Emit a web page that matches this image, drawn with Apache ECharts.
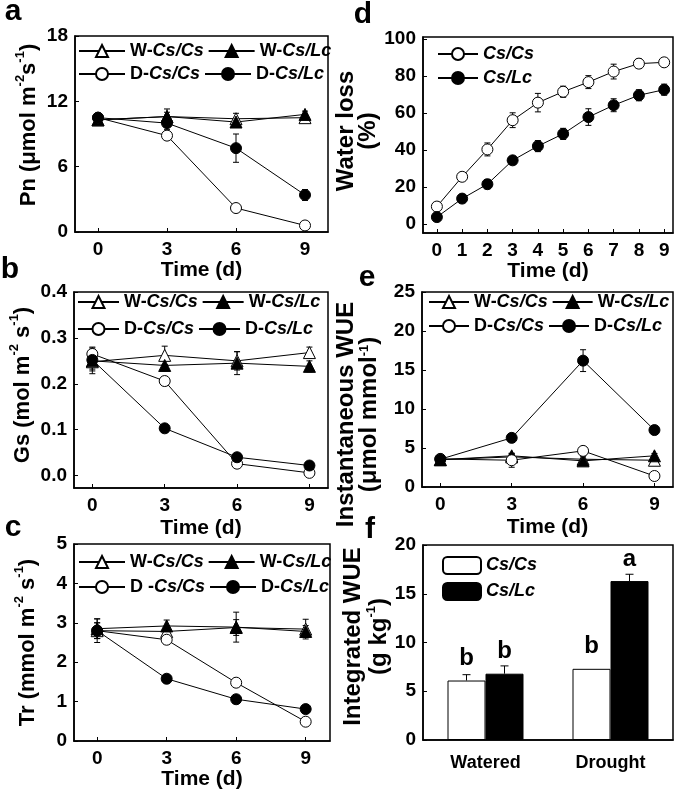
<!DOCTYPE html>
<html><head><meta charset="utf-8">
<script src="https://cdn.jsdelivr.net/npm/echarts@6/dist/echarts.min.js"></script>
<style>html,body{margin:0;padding:0;background:#fff}#c{width:685px;height:791px}</style>
</head><body><div id="c"></div>
<script>
// ---------- data ----------
const days4 = [0, 3, 6, 9];
const days10 = [0, 1, 2, 3, 4, 5, 6, 7, 8, 9];
const dayTicks4 = [0, 3, 6, 9];

// a: Pn
const pnWCsCs = [10.3, 10.6, 10.4, 10.5];
const pnWCsCsErr = [0.3, 0.4, 0.5, 0.3];
const pnWCsLc = [10.3, 10.6, 10.1, 10.8];
const pnWCsLcErr = [0.3, 0.7, 0.3, 0.3];
const pnDCsCs = [10.5, 8.85, 2.2, 0.6];
const pnDCsCsErr = [0.3, 0.3, 0.3, 0.25];
const pnDCsLc = [10.5, 10.0, 7.7, 3.4];
const pnDCsLcErr = [0.3, 0.6, 1.3, 0.5];

// b: Gs
const gsWCsCs = [0.248, 0.262, 0.25, 0.268];
const gsWCsCsErr = [0.02, 0.02, 0.02, 0.012];
const gsWCsLc = [0.25, 0.24, 0.245, 0.238];
const gsWCsLcErr = [0.028, 0.012, 0.025, 0.012];
const gsDCsCs = [0.265, 0.206, 0.026, 0.006];
const gsDCsCsErr = [0.015, 0.01, 0.004, 0.006];
const gsDCsLc = [0.252, 0.103, 0.04, 0.022];
const gsDCsLcErr = [0.02, 0.005, 0.004, 0.004];

// c: Tr
const trWCsCs = [2.8, 2.78, 2.88, 2.84];
const trWCsCsErr = [0.3, 0.1, 0.2, 0.25];
const trWCsLc = [2.85, 2.92, 2.89, 2.78];
const trWCsLcErr = [0.25, 0.15, 0.38, 0.15];
const trDCsCs = [2.8, 2.57, 1.48, 0.49];
const trDCsCsErr = [0.2, 0.12, 0.05, 0.05];
const trDCsLc = [2.8, 1.58, 1.06, 0.81];
const trDCsLcErr = [0.2, 0.05, 0.03, 0.03];

// d: Water loss (%)
const wlCsCs = [9.3, 25.4, 40.2, 56.0, 65.5, 71.4, 76.6, 82.3, 86.6, 87.3];
const wlCsCsErr = [2, 2, 3.5, 4, 5, 3, 3.5, 4, 2.5, 1.5];
const wlCsLc = [3.6, 13.6, 21.4, 34.3, 42.0, 48.6, 57.7, 64.1, 69.5, 72.5];
const wlCsLcErr = [1.5, 2, 2.5, 2, 3, 3, 4.5, 3.5, 3, 3];

// e: Instantaneous WUE
const wueWCsCs = [3.5, 3.86, 3.56, 3.43];
const wueWCsCsErr = [0.3, 0.3, 0.5, 0.3];
const wueWCsLc = [3.5, 4.0, 3.35, 4.0];
const wueWCsLcErr = [0.3, 0.3, 0.6, 0.3];
const wueDCsCs = [3.6, 3.43, 4.63, 1.41];
const wueDCsCsErr = [0.3, 0.9, 0.4, 0.3];
const wueDCsLc = [3.56, 6.3, 16.2, 7.3];
const wueDCsLcErr = [0.3, 0.3, 1.4, 0.4];

// f: Integrated WUE
const fCategories = ['Watered', 'Drought'];
const fCsCs = [6.1, 7.3];
const fCsCsErr = [0.6, 0];
const fCsLc = [6.8, 16.3];
const fCsLcErr = [0.8, 0.7];
const fLettersCsCs = ['b', 'b'];
const fLettersCsLc = ['b', 'a'];

// ---------- styles ----------
const FONT = 'Liberation Sans';
const STY = {
  WCsCs: { symbol: 'triangle', fill: '#fff', size: 12 },
  WCsLc: { symbol: 'triangle', fill: '#000', size: 12 },
  DCsCs: { symbol: 'circle', fill: '#fff', size: 11 },
  DCsLc: { symbol: 'circle', fill: '#000', size: 11 }
};

const series = [];
function addLine(idx, name, xs, ys, errs, sty) {
  series.push({
    type: 'custom', xAxisIndex: idx, yAxisIndex: idx, z: 2, silent: true,
    data: xs.map((x, i) => [x, ys[i], errs[i]]),
    encode: { x: 0, y: 1 },
    renderItem: (params, api) => {
      const x = api.value(0), y = api.value(1), e = api.value(2);
      if (!e) return null;
      const t = api.coord([x, y + e]), b = api.coord([x, y - e]);
      const w = 3, st = { stroke: '#000', lineWidth: 1 };
      return { type: 'group', children: [
        { type: 'line', shape: { x1: t[0], y1: t[1], x2: b[0], y2: b[1] }, style: st },
        { type: 'line', shape: { x1: t[0] - w, y1: t[1], x2: t[0] + w, y2: t[1] }, style: st },
        { type: 'line', shape: { x1: b[0] - w, y1: b[1], x2: b[0] + w, y2: b[1] }, style: st }
      ]};
    }
  });
  series.push({
    type: 'line', name: name, xAxisIndex: idx, yAxisIndex: idx, z: 3,
    data: xs.map((x, i) => [x, ys[i]]),
    symbol: sty.symbol, symbolSize: sty.size, showSymbol: true,
    lineStyle: { color: '#000', width: 1 },
    itemStyle: { color: sty.fill, borderColor: '#000', borderWidth: 1 }
  });
}

addLine(0, 'a W-Cs/Cs', days4, pnWCsCs, pnWCsCsErr, STY.WCsCs);
addLine(0, 'a W-Cs/Lc', days4, pnWCsLc, pnWCsLcErr, STY.WCsLc);
addLine(0, 'a D-Cs/Cs', days4, pnDCsCs, pnDCsCsErr, STY.DCsCs);
addLine(0, 'a D-Cs/Lc', days4, pnDCsLc, pnDCsLcErr, STY.DCsLc);

addLine(1, 'b W-Cs/Cs', days4, gsWCsCs, gsWCsCsErr, STY.WCsCs);
addLine(1, 'b W-Cs/Lc', days4, gsWCsLc, gsWCsLcErr, STY.WCsLc);
addLine(1, 'b D-Cs/Cs', days4, gsDCsCs, gsDCsCsErr, STY.DCsCs);
addLine(1, 'b D-Cs/Lc', days4, gsDCsLc, gsDCsLcErr, STY.DCsLc);

addLine(2, 'c W-Cs/Cs', days4, trWCsCs, trWCsCsErr, STY.WCsCs);
addLine(2, 'c W-Cs/Lc', days4, trWCsLc, trWCsLcErr, STY.WCsLc);
addLine(2, 'c D -Cs/Cs', days4, trDCsCs, trDCsCsErr, STY.DCsCs);
addLine(2, 'c D-Cs/Lc', days4, trDCsLc, trDCsLcErr, STY.DCsLc);

addLine(3, 'd Cs/Cs', days10, wlCsCs, wlCsCsErr, STY.DCsCs);
addLine(3, 'd Cs/Lc', days10, wlCsLc, wlCsLcErr, STY.DCsLc);

addLine(4, 'e W-Cs/Cs', days4, wueWCsCs, wueWCsCsErr, STY.WCsCs);
addLine(4, 'e W-Cs/Lc', days4, wueWCsLc, wueWCsLcErr, STY.WCsLc);
addLine(4, 'e D-Cs/Cs', days4, wueDCsCs, wueDCsCsErr, STY.DCsCs);
addLine(4, 'e D-Cs/Lc', days4, wueDCsLc, wueDCsLcErr, STY.DCsLc);

// f bars
const BARW = 0.304;
function addBar(name, vals, errs, letters, fill, side) {
  series.push({
    type: 'bar', name: name, xAxisIndex: 5, yAxisIndex: 5, z: 2,
    data: vals, barWidth: (BARW * 100) + '%', barGap: '0%',
    itemStyle: { color: fill, borderColor: '#000', borderWidth: 1 },
    label: {
      show: true, position: 'top', distance: 10,
      formatter: p => letters[p.dataIndex],
      fontSize: 24, fontWeight: 'bold', fontFamily: FONT, color: '#000'
    }
  });
  series.push({
    type: 'custom', xAxisIndex: 5, yAxisIndex: 5, z: 3, silent: true,
    data: vals.map((v, i) => [i, v, errs[i]]),
    encode: { x: 0, y: 1 },
    renderItem: (params, api) => {
      const e = api.value(2);
      if (!e) return null;
      const band = api.size([1, 0])[0];
      const off = side * band * BARW / 2;
      const t = api.coord([api.value(0), api.value(1) + e]);
      const b = api.coord([api.value(0), api.value(1)]);
      const x = t[0] + off, w = 4, st = { stroke: '#000', lineWidth: 1 };
      return { type: 'group', children: [
        { type: 'line', shape: { x1: x, y1: t[1], x2: x, y2: b[1] }, style: st },
        { type: 'line', shape: { x1: x - w, y1: t[1], x2: x + w, y2: t[1] }, style: st }
      ]};
    }
  });
}
addBar('f Cs/Cs', fCsCs, fCsCsErr, fLettersCsCs, '#fff', -1);
addBar('f Cs/Lc', fCsLc, fCsLcErr, fLettersCsLc, '#000', 1);

// ---------- layout ----------
const grids = [
  { left: 75, top: 36, width: 253, height: 196 },
  { left: 74, top: 292, width: 254, height: 196 },
  { left: 74, top: 544, width: 256, height: 197 },
  { left: 423, top: 37, width: 250, height: 196 },
  { left: 422, top: 292, width: 251, height: 195 },
  { left: 423, top: 545, width: 250, height: 195 }
].map(g => Object.assign({ show: true, borderColor: '#000', borderWidth: 1.5, backgroundColor: 'transparent' }, g));

const axLine = { show: true, onZero: false, lineStyle: { color: '#000', width: 1.5 } };
const lblStyle = { fontSize: 19, fontWeight: 'bold', fontFamily: FONT, color: '#000' };
const titleStyle = { fontSize: 21, fontWeight: 'bold', fontFamily: FONT, color: '#000' };

function xVal(idx, min, max, ticks, gap) {
  return {
    type: 'value', gridIndex: idx, min: min, max: max,
    axisLine: axLine, splitLine: { show: false },
    axisTick: { show: true, inside: true, length: 4, customValues: ticks, lineStyle: { color: '#000', width: 1 } },
    axisLabel: Object.assign({ customValues: ticks, margin: 8 }, lblStyle),
    name: 'Time (d)', nameLocation: 'middle', nameGap: gap, nameTextStyle: titleStyle
  };
}
function richFor(size, lh) {
  return {
    t: { fontSize: size, fontWeight: 'bold', fontFamily: FONT, color: '#000', lineHeight: lh, verticalAlign: 'bottom' },
    s: { fontSize: 13, fontWeight: 'bold', fontFamily: FONT, color: '#000', lineHeight: 10, verticalAlign: 'top' }
  };
}
function yVal(idx, min, max, ticks, name, gap, pad, size, lh, fmt) {
  const lab = Object.assign({ customValues: ticks, margin: 7 }, lblStyle);
  if (fmt) lab.formatter = fmt;
  return {
    type: 'value', gridIndex: idx, min: min, max: max,
    axisLine: axLine, splitLine: { show: false },
    axisTick: { show: true, inside: true, length: 4, customValues: ticks, lineStyle: { color: '#000', width: 1 } },
    axisLabel: lab,
    name: name, nameLocation: 'middle', nameGap: gap, nameRotate: 90,
    nameTextStyle: { padding: pad, rich: richFor(size, lh) }
  };
}

const xAxes = [
  xVal(0, -1, 10, dayTicks4, 24),
  xVal(1, -0.76, 9.77, dayTicks4, 30),
  xVal(2, -1, 10.05, dayTicks4, 27),
  xVal(3, -0.55, 9.35, days10, 27),
  xVal(4, -0.77, 9.78, dayTicks4, 30),
  {
    type: 'category', gridIndex: 5, data: fCategories,
    axisLine: axLine, axisTick: { show: false },
    axisLabel: { margin: 14, fontSize: 18, fontWeight: 'bold', fontFamily: FONT, color: '#000' }
  }
];
const yAxes = [
  yVal(0, 0, 18, [0, 6, 12, 18], '{t|Pn (μmol m}{s|-2}{t|s}{s|-1}{t|)}', 35, [0, 0, 0, 18], 22, 26),
  yVal(1, -0.027, 0.4, [0, 0.1, 0.2, 0.3, 0.4], '{t|Gs (mol m}{s|-2}{t| s}{s|-1}{t|)}', 40, [0, 0, 0, 10], 22, 26, v => v.toFixed(1)),
  yVal(2, 0, 5, [0, 1, 2, 3, 4, 5], '{t|Tr (mmol m}{s|-2}{t| s}{s|-1}{t|)}', 35, [0, 0, 0, 0], 22, 26),
  yVal(3, -5, 101, [0, 20, 40, 60, 80, 100], '{t|Water loss}\n{t|(%)}', 35, [0, 0, 0, 8], 24, 22),
  yVal(4, 0, 25, [0, 5, 10, 15, 20, 25], '{t|Instantaneous WUE}\n{t|(μmol mmol}{s|-1}{t|)}', 41, [0, 50, 0, 0], 24, 23),
  yVal(5, 0, 20, [0, 5, 10, 15, 20], '{t|Integrated WUE}\n{t|(g kg}{s|-1}{t|)}', 21, [0, 0, 0, 12], 24, 26)
];

// ---------- legends ----------
const legRich = {
  n: { fontSize: 18, fontWeight: 'bold', fontFamily: FONT, color: '#000', lineHeight: 20 },
  i: { fontSize: 18, fontWeight: 'bold', fontStyle: 'italic', fontFamily: FONT, color: '#000', lineHeight: 20 }
};
function legFmt(name) {
  const s = name.slice(2);
  const k = s.indexOf('Cs/');
  return (k > 0 ? '{n|' + s.slice(0, k) + '}' : '') + '{i|' + s.slice(k) + '}';
}
function leg(names, left, top, iw, ih, gap) {
  return {
    data: names, left: left, top: top, orient: 'horizontal', padding: 0,
    itemWidth: iw, itemHeight: ih, itemGap: gap, selectedMode: false,
    formatter: legFmt, textStyle: { rich: legRich }
  };
}
const legends = [
  leg(['a W-Cs/Cs', 'a W-Cs/Lc'], 78, 42, 46, 15, 4),
  leg(['a D-Cs/Cs', 'a D-Cs/Lc'], 78, 65, 46, 15, 4),
  leg(['b W-Cs/Cs', 'b W-Cs/Lc'], 77, 293, 41, 15, 4),
  leg(['b D-Cs/Cs', 'b D-Cs/Lc'], 77, 320, 41, 15, 4),
  leg(['c W-Cs/Cs', 'c W-Cs/Lc'], 78, 553, 46, 15, 4),
  leg(['c D -Cs/Cs', 'c D-Cs/Lc'], 78, 578, 46, 15, 4),
  leg(['d Cs/Cs'], 437, 45, 40, 15, 4),
  leg(['d Cs/Lc'], 437, 69, 40, 15, 4),
  leg(['e W-Cs/Cs', 'e W-Cs/Lc'], 428, 293, 40, 15, 4),
  leg(['e D-Cs/Cs', 'e D-Cs/Lc'], 428, 317, 40, 15, 4),
  leg(['f Cs/Cs'], 442, 556, 38, 17, 4),
  leg(['f Cs/Lc'], 442, 582, 38, 17, 4)
];

// ---------- panel letters ----------
const letters = [['a', 13, 12], ['b', 10, 270], ['c', 13, 528], ['d', 363, 15], ['e', 367, 278], ['f', 370, 530]];
const graphic = letters.map(l => ({
  type: 'text', x: l[1], y: l[2],
  style: { text: l[0], font: 'bold 30px "' + FONT + '"', fill: '#000', align: 'center', verticalAlign: 'middle' }
}));

const chart = echarts.init(document.getElementById('c'), null, { renderer: 'canvas' });
chart.setOption({
  animation: false,
  backgroundColor: '#fff',
  grid: grids, xAxis: xAxes, yAxis: yAxes,
  legend: legends, series: series, graphic: graphic
});
</script></body></html>
